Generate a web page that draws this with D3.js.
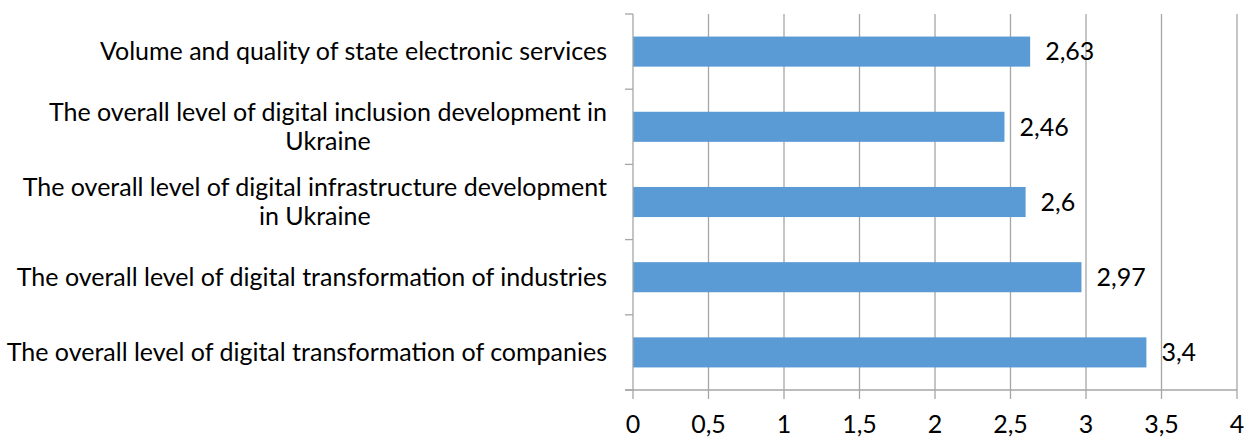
<!DOCTYPE html>
<html lang="en">
<head>
<meta charset="utf-8">
<title>Digital development of Ukraine</title>
<script src="https://d3js.org/d3.v7.min.js"></script>
<style>
  body { margin: 0; background: #fff; }
  text { font-family: Lato, "Open Sans", sans-serif; fill: #000; font-size: 25px; }
</style>
</head>
<body>
<div id="chart"></div>
<script>
// categories, top to bottom
var categories = [
  ["Volume and quality of state electronic services"],
  ["The overall level of digital inclusion development in", "Ukraine"],
  ["The overall level of digital infrastructure development", "in Ukraine"],
  ["The overall level of digital transformation of industries"],
  ["The overall level of digital transformation of companies"]
];
var values = [2.63, 2.46, 2.6, 2.97, 3.4];
var valueLabels = ["2,63", "2,46", "2,6", "2,97", "3,4"];
var xTicks = [0, 0.5, 1, 1.5, 2, 2.5, 3, 3.5, 4];

var w = 1251, h = 439;
var margin = {top: 14, right: 14, bottom: 49, left: 633};

var svg = d3.select("#chart").append("svg")
  .attr("width", w).attr("height", h);

var x = d3.scaleLinear().domain([0, 4]).range([margin.left, w - margin.right]);
var y = d3.scaleBand().domain(d3.range(categories.length))
  .range([margin.top, h - margin.bottom]).paddingInner(0.6).paddingOuter(0.3);

var gridColor = "#a6a6a6";

// vertical gridlines
svg.append("g").selectAll("line")
  .data(xTicks.slice(1))
  .enter().append("line")
  .attr("x1", function(d) { return x(d); })
  .attr("x2", function(d) { return x(d); })
  .attr("y1", margin.top)
  .attr("y2", h - margin.bottom + 9)
  .attr("stroke", gridColor).attr("stroke-width", 1.3);

// bars
svg.append("g").selectAll("rect")
  .data(values)
  .enter().append("rect")
  .attr("x", x(0))
  .attr("y", function(d, i) { return y(i); })
  .attr("width", function(d) { return x(d) - x(0); })
  .attr("height", y.bandwidth())
  .attr("fill", "#5b9bd5");

// left axis with category ticks
var bandStep = (h - margin.bottom - margin.top) / categories.length;
var catTicks = d3.range(categories.length + 1).map(function(i) { return margin.top + i * bandStep; });
svg.append("line")
  .attr("x1", x(0)).attr("x2", x(0))
  .attr("y1", margin.top).attr("y2", h - margin.bottom + 9)
  .attr("stroke", gridColor).attr("stroke-width", 1.3);
svg.append("g").selectAll("line")
  .data(catTicks)
  .enter().append("line")
  .attr("x1", x(0) - 8).attr("x2", x(0))
  .attr("y1", function(d) { return d; }).attr("y2", function(d) { return d; })
  .attr("stroke", gridColor).attr("stroke-width", 1.3);

// bottom axis line
svg.append("line")
  .attr("x1", x(0) - 8).attr("x2", x(4))
  .attr("y1", h - margin.bottom).attr("y2", h - margin.bottom)
  .attr("stroke", gridColor).attr("stroke-width", 1.3);

// x tick labels
svg.append("g").selectAll("text")
  .data(xTicks)
  .enter().append("text")
  .attr("x", function(d) { return x(d); })
  .attr("y", h - margin.bottom + 43)
  .attr("text-anchor", "middle")
  .text(function(d) { return String(d).replace(".", ","); });

// value labels
svg.append("g").selectAll("text")
  .data(values)
  .enter().append("text")
  .attr("x", function(d) { return x(d) + 15; })
  .attr("y", function(d, i) { return y(i) + y.bandwidth() / 2; })
  .attr("dy", "0.35em")
  .text(function(d, i) { return valueLabels[i]; });

// category labels: wrapped lines centred, block right-aligned at the axis
var labelRight = x(0) - 26;
var lineH = 29;
categories.forEach(function(lines, i) {
  var cy = y(i) + y.bandwidth() / 2;
  var g = svg.append("g");
  var texts = lines.map(function(t, k) {
    return g.append("text")
      .attr("y", cy + (k - (lines.length - 1) / 2) * lineH)
      .attr("dy", "0.35em")
      .attr("text-anchor", "middle")
      .text(t);
  });
  var maxW = d3.max(texts, function(t) { return t.node().getComputedTextLength(); });
  texts.forEach(function(t) { t.attr("x", labelRight - maxW / 2); });
});
</script>
</body>
</html>
